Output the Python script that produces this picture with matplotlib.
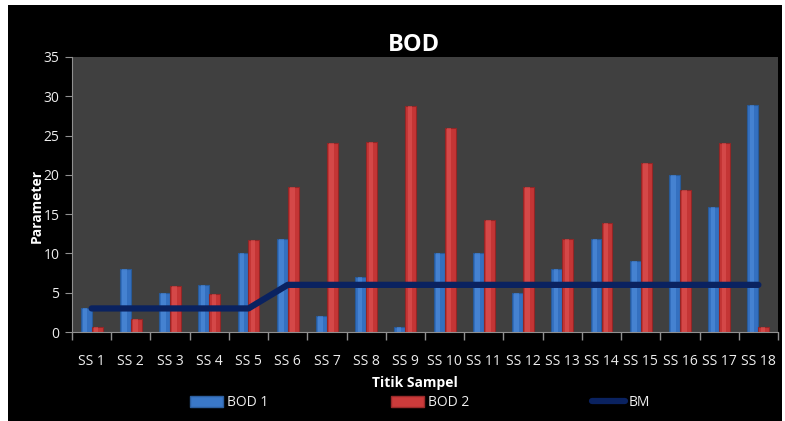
import matplotlib
matplotlib.use('Agg')
import matplotlib.pyplot as plt
import numpy as np
from matplotlib.patches import Rectangle
from matplotlib.lines import Line2D

# data
sites = ['SS 1', 'SS 2', 'SS 3', 'SS 4', 'SS 5', 'SS 6', 'SS 7', 'SS 8', 'SS 9',
         'SS 10', 'SS 11', 'SS 12', 'SS 13', 'SS 14', 'SS 15', 'SS 16', 'SS 17', 'SS 18']
bod1 = [3, 8, 5, 6, 10.1, 11.9, 2, 7, 0.6, 10, 10, 5, 8, 11.9, 9, 20, 15.9, 28.9]
bod2 = [0.6, 1.7, 5.9, 4.8, 11.7, 18.5, 24.1, 24.2, 28.8, 26, 14.2, 18.5, 11.9, 13.9, 21.5, 18.1, 24, 0.6]
bm = [3, 3, 3, 3, 3, 6, 6, 6, 6, 6, 6, 6, 6, 6, 6, 6, 6, 6]

plt.rcParams['font.family'] = ['Open Sans', 'DejaVu Sans']

fig = plt.figure(figsize=(7.85, 4.21), dpi=100)
fig.patch.set_facecolor('white')
# black chart area behind everything
bg = Rectangle((8/785, 0), (782-8)/785, 1-5/421, transform=fig.transFigure,
               facecolor='black', edgecolor='none', zorder=-10)
fig.add_artist(bg)

ax = fig.add_axes([72/785, 1-332/421, (778-72)/785, (332-57)/421])
ax.set_zorder(1)
ax.set_facecolor('#404040')

x = np.arange(len(sites))
w = 0.28
ax.bar(x - w/2, bod1, w, color='#3470c0', edgecolor='#285a98', linewidth=0.8, zorder=2)
ax.bar(x + w/2, bod2, w, color='#c43535', edgecolor='#922626', linewidth=0.8, zorder=2)
# soft highlight stripe, like the shaded bars of the original
ax.bar(x - w/2 - w*0.08, bod1, w*0.4, color='#5a98e6', alpha=0.45, linewidth=0, zorder=2.5)
ax.bar(x + w/2 - w*0.08, bod2, w*0.4, color='#e86060', alpha=0.45, linewidth=0, zorder=2.5)
ax.plot(x, bm, color='#0a2260', linewidth=4.5, solid_capstyle='round', zorder=3)

ax.set_xlim(-0.5, len(sites) - 0.5)
ax.set_ylim(0, 35)
ax.set_yticks(range(0, 36, 5))
ax.set_xticks(x)
ax.set_xticklabels(sites)
ax.set_xticks(np.arange(-0.5, len(sites), 1), minor=True)
ax.tick_params(axis='x', which='major', length=0, pad=16, colors='#eeeeee', labelsize=10)
ax.tick_params(axis='x', which='minor', length=6, color='#909090', width=1)
ax.tick_params(axis='y', length=5, color='#909090', colors='#eeeeee', labelsize=10, pad=4)

for s in ['top', 'right']:
    ax.spines[s].set_visible(False)
for s in ['left', 'bottom']:
    ax.spines[s].set_color('#909090')

ax.set_title('BOD', color='white', fontsize=17, fontweight='bold', pad=2, x=0.484)
ax.set_xlabel('Titik Sampel', color='white', fontsize=10, fontweight='bold')
ax.xaxis.set_label_coords(0.486, -0.16)
ax.set_ylabel('Parameter', color='white', fontsize=10, fontweight='bold')
ax.yaxis.set_label_coords(-0.04, 0.46)

handles = [Rectangle((0, 0), 1, 1, facecolor='#3a78c8', edgecolor='#2c5e9e'),
           Rectangle((0, 0), 1, 1, facecolor='#cc3b3b', edgecolor='#9a2a2a'),
           Line2D([0], [0], color='#0a2260', linewidth=4.5, solid_capstyle='round')]
leg = fig.legend(handles, ['BOD 1', 'BOD 2', 'BM'], loc='center', ncol=3,
                 bbox_to_anchor=(0.535, 1-403/421), frameon=False, fontsize=10,
                 handlelength=2.4, handleheight=0.8, handletextpad=0.3, columnspacing=8.8)
for t in leg.get_texts():
    t.set_color('#eeeeee')

fig.savefig('out.png', dpi=100, facecolor=fig.get_facecolor())
